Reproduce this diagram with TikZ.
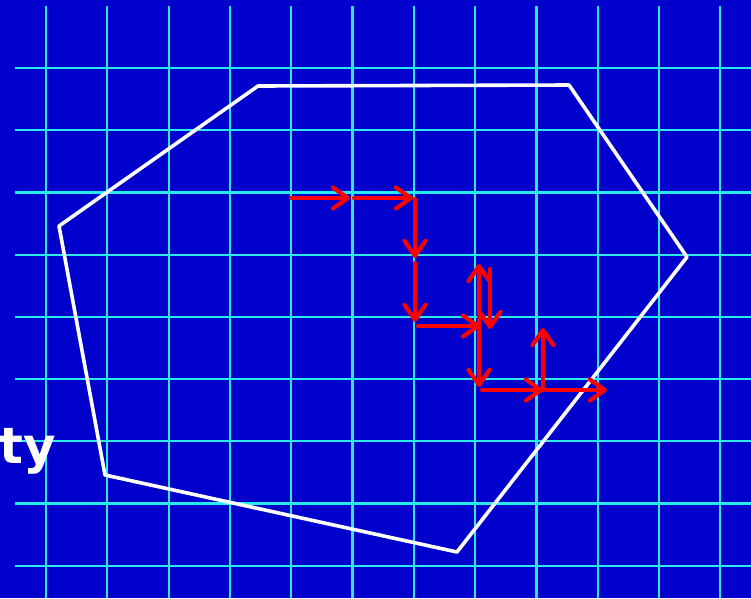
\documentclass[tikz,border=0pt]{standalone}
\usepackage{fontspec}
\setsansfont{DejaVu Sans}
\usepackage{xcolor}
\usetikzlibrary{arrows.meta}
\definecolor{bgblue}{RGB}{0,0,204}
\definecolor{gridcyan}{RGB}{40,235,235}
\definecolor{movered}{RGB}{255,0,0}

\begin{document}
\begin{tikzpicture}[x=1pt, y=-1pt, gridline/.style={gridcyan, line width=2.2pt}, region/.style={white, line width=3.6pt, line join=round}, move/.style={movered, line width=4.2pt, line cap=round, -{Straight Barb[length=15pt, width=21pt, line cap=round, line join=round]}}]
\fill[bgblue] (0,0) rectangle (751,598);
\useasboundingbox (0,0) rectangle (751,598);
\foreach \i in {0,...,11} \draw[gridline] (46+61.3*\i,6) -- (46+61.3*\i,598);
\foreach \j in {0,...,8} \draw[gridline] (15,68+62.2*\j) -- (751,68+62.2*\j);
\node[white, font=\sffamily\bfseries\fontsize{50}{50}\selectfont, anchor=base west, inner sep=0pt] (lbl) at (-1,463) {ty};
\coordinate (v1) at (258,86);
\coordinate (v2) at (569,85);
\coordinate (v3) at (687,257);
\coordinate (v4) at (457,552);
\coordinate (v5) at (105,475);
\coordinate (v6) at (59,226);
\draw[region] (v1) -- (v2) -- (v3) -- (v4) -- (v5) -- (v6) -- cycle;
\coordinate (s1) at (291,198); \coordinate (e1) at (350,198);
\coordinate (s2) at (354,198); \coordinate (e2) at (413,198);
\coordinate (s3) at (415,199); \coordinate (e3) at (415,258);
\coordinate (s4) at (415,263); \coordinate (e4) at (415,322);
\coordinate (s5) at (418,326); \coordinate (e5) at (480,326);
\coordinate (s6) at (479,326); \coordinate (e6) at (479,264);
\coordinate (s7) at (490,269); \coordinate (e7) at (490,329);
\coordinate (s8) at (479,328); \coordinate (e8) at (479,387);
\coordinate (s9) at (482,390); \coordinate (e9) at (543,390);
\coordinate (s10) at (543,390); \coordinate (e10) at (543,328);
\coordinate (s11) at (546,390); \coordinate (e11) at (607,390);
\foreach \k in {1,...,11} \draw[move] (s\k) -- (e\k);
\end{tikzpicture}
\end{document}
